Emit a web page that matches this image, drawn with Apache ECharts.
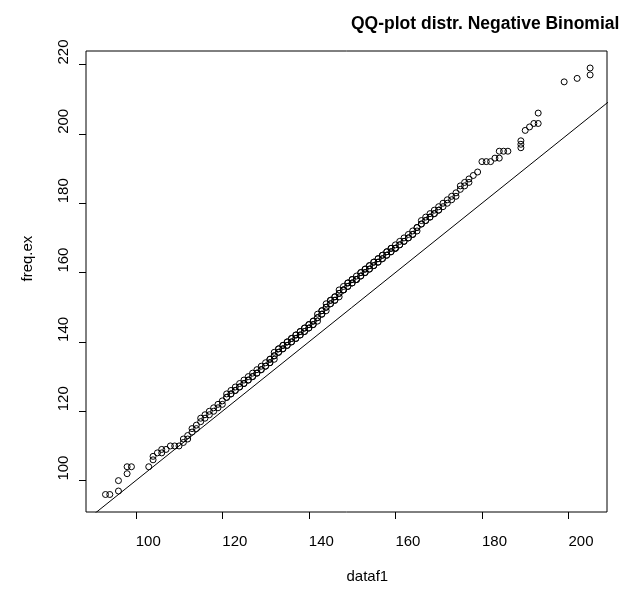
<!DOCTYPE html>
<html>
<head>
<meta charset="utf-8">
<script src="https://cdn.jsdelivr.net/npm/echarts@6/dist/echarts.min.js"></script>
<style>
html,body{margin:0;padding:0;background:#fff;}
#chart{width:633px;height:589px;}
</style>
</head>
<body>
<div id="chart"></div>
<script>
// sample quantiles (dataf1)
const dataf1 = [
  93,94,96,96,98,98,99,103,104,104,105,106,106,107,108,109,110,
  111,111,112,112,113,113,114,114,115,115,116,116,117,117,118,118,119,119,120,120,
  121,121,121,122,122,122,123,123,123,124,124,124,125,125,125,126,126,126,127,127,127,128,128,128,129,129,129,130,130,130,
  131,131,131,131,132,132,132,132,133,133,133,133,134,134,134,134,135,135,135,135,
  136,136,136,136,137,137,137,137,138,138,138,138,139,139,139,139,140,140,140,140,
  141,141,141,141,142,142,142,142,143,143,143,143,144,144,144,144,145,145,145,145,
  146,146,146,146,147,147,147,147,148,148,148,148,149,149,149,149,150,150,150,150,
  151,151,151,151,152,152,152,152,153,153,153,153,154,154,154,154,155,155,155,155,
  156,156,156,156,157,157,157,157,158,158,158,158,159,159,159,159,160,160,160,160,
  161,161,161,162,162,162,163,163,163,164,164,164,165,165,165,166,166,166,167,167,167,168,168,168,169,169,169,170,170,170,
  171,171,172,172,173,173,174,174,175,175,176,176,177,177,178,179,
  180,181,182,183,184,184,185,186,189,189,189,190,191,192,193,193,199,202,205,205
];
// theoretical quantiles (freq.ex)
const freqEx = [
  96,96,97,100,102,104,104,104,106,107,108,108,109,109,110,110,110,
  111,112,112,113,114,115,115,116,117,118,118,119,119,120,120,121,121,122,122,123,
  124,124,125,125,125,126,126,126,127,127,127,128,128,128,129,129,129,130,130,130,131,131,131,132,132,132,133,133,133,134,
  134,134,135,135,135,136,136,137,137,137,138,138,138,138,139,139,139,139,140,140,
  140,140,141,141,141,141,142,142,142,142,143,143,143,143,144,144,144,144,145,145,
  145,145,146,146,146,147,147,148,148,148,149,149,149,150,150,151,151,151,152,152,
  152,152,153,153,153,154,154,155,155,155,155,156,156,156,157,157,157,157,158,158,
  158,158,158,159,159,159,160,160,160,160,161,161,161,161,162,162,162,162,163,163,
  163,163,164,164,164,164,165,165,165,165,166,166,166,166,167,167,167,167,167,168,
  168,168,169,169,169,170,170,170,171,171,171,172,172,173,173,174,174,175,175,175,176,176,176,177,177,177,178,178,178,179,
  179,180,180,181,181,182,182,183,184,185,185,186,186,187,188,189,
  192,192,192,193,193,195,195,195,196,197,198,201,202,203,203,206,215,216,217,219
];
const xTicks = [100,120,140,160,180,200];
const yTicks = [100,120,140,160,180,200,220];
const refLine = [[80,80],[230,230]]; // y = x reference line

const points = dataf1.map((v,i)=>[v,freqEx[i]]);
const FONT = '"Liberation Sans", Arial, Helvetica, sans-serif';

const chart = echarts.init(document.getElementById('chart'), null, {renderer:'canvas'});
chart.setOption({
  animation:false,
  backgroundColor:'#ffffff',
  title:{
    text:'QQ-plot distr. Negative Binomial',
    left:346, top:10,
    textStyle:{fontFamily:FONT,fontWeight:'bold',fontSize:17.5,color:'#000'}
  },
  grid:{left:86,right:26,top:51,bottom:71,show:true,borderColor:'#000',borderWidth:1,backgroundColor:'transparent'},
  xAxis:{
    type:'value', min:88.5, max:208.9,
    name:'dataf1', nameLocation:'middle', nameGap:57,
    nameTextStyle:{fontFamily:FONT,fontSize:15,color:'#000',align:'left',verticalAlign:'top'},
    splitLine:{show:false},
    axisLine:{show:false},
    axisTick:{show:true,inside:false,length:7,lineStyle:{color:'#000'},customValues:xTicks},
    axisLabel:{fontFamily:FONT,fontSize:15,color:'#000',margin:22,align:'left',verticalAlign:'top',customValues:xTicks}
  },
  yAxis:{
    type:'value', min:90.95, max:223.9,
    name:'freq.ex', nameLocation:'middle', nameGap:51, nameRotate:90,
    nameTextStyle:{fontFamily:FONT,fontSize:15,color:'#000',align:'left',verticalAlign:'bottom'},
    splitLine:{show:false},
    axisLine:{show:false},
    axisTick:{show:true,inside:false,length:7,lineStyle:{color:'#000'},customValues:yTicks},
    axisLabel:{fontFamily:FONT,fontSize:15,color:'#000',margin:15,rotate:90,align:'left',verticalAlign:'bottom',customValues:yTicks}
  },
  series:[
    {
      type:'line', data:refLine, showSymbol:false, symbol:'none', clip:true,
      lineStyle:{color:'#000',width:1}, silent:true, z:1
    },
    {
      type:'scatter', data:points, symbol:'circle', symbolSize:6,
      itemStyle:{color:'rgba(0,0,0,0)',borderColor:'#000',borderWidth:1,opacity:1},
      z:2
    }
  ]
});
</script>
</body>
</html>
